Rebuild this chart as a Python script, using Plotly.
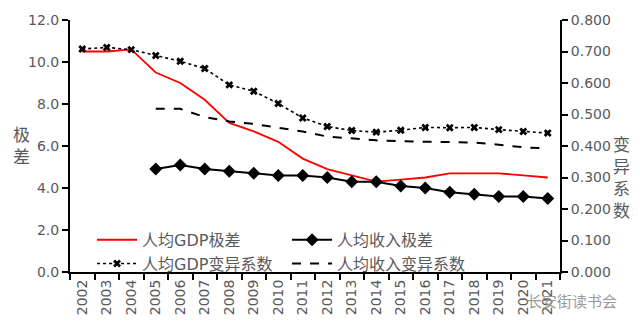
import plotly.graph_objects as go

years = [str(y) for y in range(2002, 2022)]
gdp_range = [10.5, 10.5, 10.6, 9.5, 9.0, 8.2, 7.1, 6.7, 6.2, 5.4,
             4.9, 4.6, 4.3, 4.4, 4.5, 4.7, 4.7, 4.7, 4.6, 4.5]
inc_years = years[3:]
inc_range = [4.9, 5.1, 4.9, 4.8, 4.7, 4.6, 4.6, 4.5, 4.3, 4.3,
             4.1, 4.0, 3.8, 3.7, 3.6, 3.6, 3.5]
gdp_cv = [0.708, 0.713, 0.706, 0.687, 0.669, 0.646, 0.594, 0.574, 0.535, 0.489,
          0.462, 0.449, 0.444, 0.450, 0.459, 0.458, 0.459, 0.452, 0.446, 0.441]
inc_cv = [0.518, 0.518, 0.492, 0.478, 0.470, 0.459, 0.446, 0.430, 0.423, 0.418,
          0.415, 0.414, 0.411, 0.411, 0.404, 0.396, 0.392]

FONT = "DejaVu Sans, Noto Sans CJK SC, sans-serif"
GREY = "#595959"

fig = go.Figure()
fig.add_trace(go.Scatter(x=years, y=gdp_range, name="人均GDP极差", mode="lines",
                         line=dict(color="#ff0000", width=1.8)))
fig.add_trace(go.Scatter(x=inc_years, y=inc_range, name="人均收入极差", mode="lines+markers",
                         line=dict(color="black", width=2),
                         marker=dict(symbol="diamond", size=10, color="black")))
fig.add_trace(go.Scatter(x=years, y=gdp_cv, name="人均GDP变异系数", mode="lines+markers",
                         yaxis="y2", line=dict(color="black", width=1.6, dash="dot"),
                         marker=dict(symbol="x", size=7, color="black")))
fig.add_trace(go.Scatter(x=inc_years, y=inc_cv, name="人均收入变异系数", mode="lines",
                         yaxis="y2", line=dict(color="black", width=2, dash="dash")))

fig.update_layout(
    width=640, height=331,
    margin=dict(l=70, r=80, t=14, b=59),
    paper_bgcolor="white", plot_bgcolor="white",
    font=dict(family=FONT, size=14, color=GREY),
    xaxis=dict(type="category", categoryorder="array", categoryarray=years,
               range=[-0.5, 19.5], tickson="boundaries", ticks="outside",
               ticklen=6, tickcolor="black", tickwidth=1.5,
               showline=True, linecolor="black", linewidth=2,
               tickangle=-90, showgrid=False, tickfont=dict(size=14, color=GREY)),
    yaxis=dict(range=[0, 12], dtick=2, tickformat=".1f", ticks="outside",
               ticklen=6, tickcolor="black", tickwidth=1.5,
               showline=True, linecolor="black", linewidth=2,
               showgrid=False, zeroline=False, tickfont=dict(size=14, color=GREY)),
    yaxis2=dict(range=[0, 0.8], dtick=0.1, tickformat=".3f", ticks="outside",
                ticklen=6, tickcolor="black", tickwidth=1.5,
                showline=True, linecolor="black", linewidth=2,
                overlaying="y", side="right", showgrid=False, zeroline=False,
                tickfont=dict(size=14, color=GREY)),
    legend=dict(orientation="h", x=0.045, y=0.195, xanchor="left", yanchor="top",
                entrywidth=140, bgcolor="rgba(0,0,0,0)",
                font=dict(size=16, color=GREY, family=FONT),
                tracegroupgap=0, itemwidth=40),
    showlegend=True,
)

fig.add_annotation(text="极<br>差", xref="paper", yref="paper",
                   x=-0.1, y=0.5, xanchor="center", yanchor="middle",
                   showarrow=False, font=dict(size=17, color=GREY, family=FONT))
fig.add_annotation(text="变<br>异<br>系<br>数", xref="paper", yref="paper",
                   x=1.125, y=0.375, xanchor="center", yanchor="middle",
                   showarrow=False, font=dict(size=17, color=GREY, family=FONT))
fig.add_annotation(text="长安街读书会", xref="paper", yref="paper",
                   x=1.12, y=-0.12, xanchor="right", yanchor="middle",
                   showarrow=False, font=dict(size=15, color="#9a9a9a", family=FONT))

fig.write_html("out.html")
